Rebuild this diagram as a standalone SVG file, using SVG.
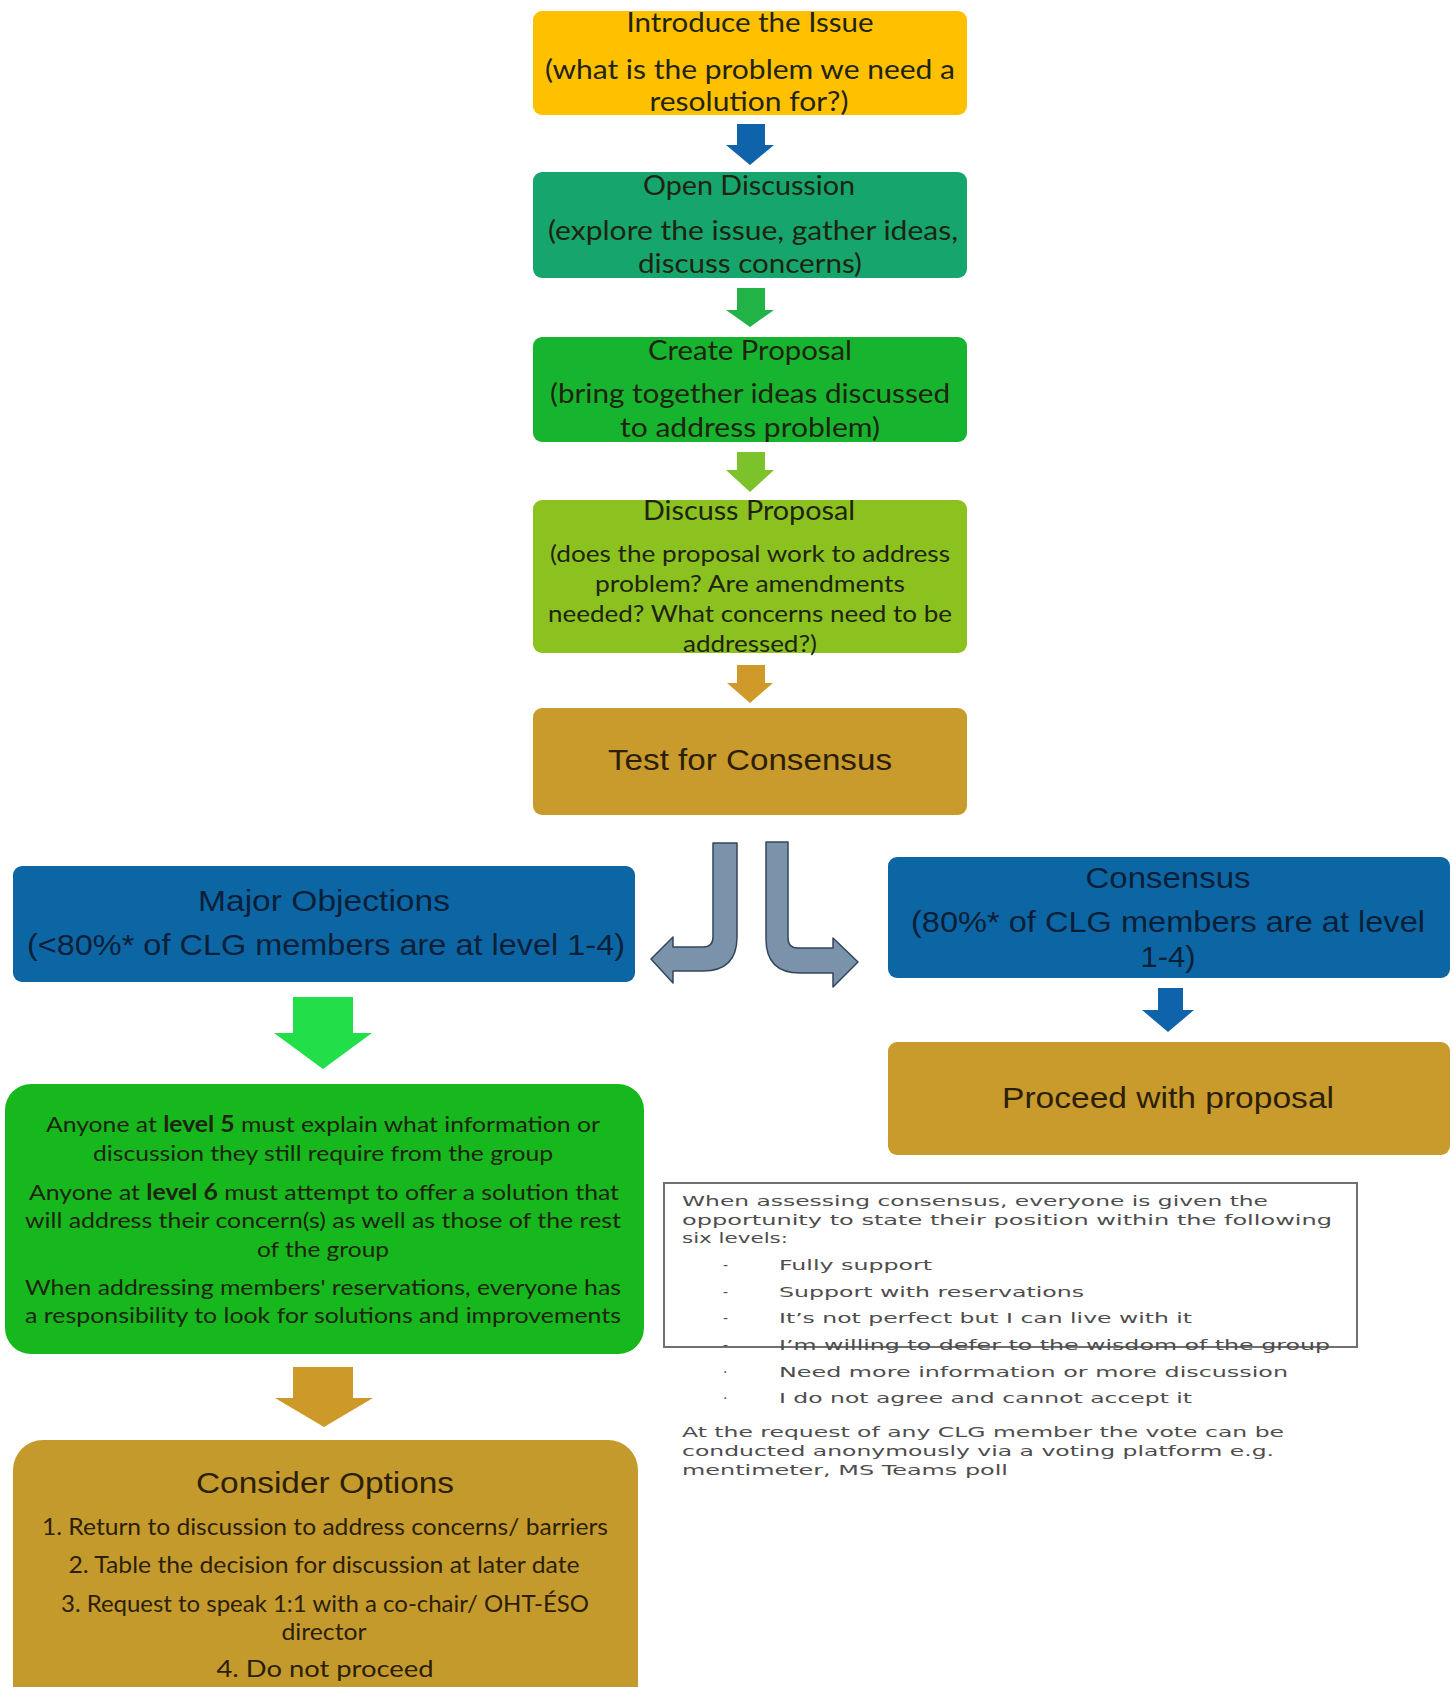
<svg xmlns="http://www.w3.org/2000/svg" width="1453" height="1687" viewBox="0 0 1453 1687">
<style>
.t{font-family:Lato,"Open Sans","Liberation Sans",sans-serif;fill:#1f2410;text-anchor:middle;}
.h{font-family:"Liberation Sans",Arial,sans-serif;text-anchor:middle;}
.s26{font-size:26px;}
.s24{font-size:24px;}
.s22{font-size:22px;}
.s23{font-size:23px;}
.s30{font-size:30px;}
.navy{fill:#0b1f38;}
.brown{fill:#2b1f08;}
.n{font-family:"DejaVu Sans",Verdana,sans-serif;font-size:14px;fill:#4d4d4d;}
.b{font-weight:bold;}
.grey{fill:#7a92aa;stroke:#34465a;stroke-width:1.5;stroke-linejoin:round;}
</style>
<rect width="1453" height="1687" fill="#ffffff"/>

<g id="introduce">
<rect x="533" y="11" width="434" height="104" rx="9" fill="#FFC000"/>
<text class="t s26" x="750" y="32" textLength="247" lengthAdjust="spacingAndGlyphs">Introduce the Issue</text>
<text class="t s26" x="750" y="79" textLength="410" lengthAdjust="spacingAndGlyphs">(what is the problem we need a</text>
<text class="t s26" x="749" y="111" textLength="199" lengthAdjust="spacingAndGlyphs">resolution for?)</text>
</g>

<g id="open-discussion">
<rect x="533" y="172" width="434" height="106" rx="9" fill="#17A56E"/>
<text class="t s26" x="749" y="195" textLength="212" lengthAdjust="spacingAndGlyphs">Open Discussion</text>
<text class="t s26" x="753" y="240" textLength="410" lengthAdjust="spacingAndGlyphs">(explore the issue, gather ideas,</text>
<text class="t s26" x="750" y="273" textLength="224" lengthAdjust="spacingAndGlyphs">discuss concerns)</text>
</g>

<g id="create-proposal">
<rect x="533" y="337" width="434" height="105" rx="9" fill="#17B52F"/>
<text class="t s26" x="750" y="360" textLength="204" lengthAdjust="spacingAndGlyphs">Create Proposal</text>
<text class="t s26" x="750" y="403" textLength="400" lengthAdjust="spacingAndGlyphs">(bring together ideas discussed</text>
<text class="t s26" x="750" y="437" textLength="260" lengthAdjust="spacingAndGlyphs">to address problem)</text>
</g>

<g id="discuss-proposal">
<rect x="533" y="500" width="434" height="153" rx="9" fill="#8BC220"/>
<text class="t s26" x="749" y="520" textLength="212" lengthAdjust="spacingAndGlyphs">Discuss Proposal</text>
<text class="t s24" x="750" y="562" textLength="400" lengthAdjust="spacingAndGlyphs">(does the proposal work to address</text>
<text class="t s24" x="750" y="592" textLength="310" lengthAdjust="spacingAndGlyphs">problem? Are amendments</text>
<text class="t s24" x="750" y="622" textLength="404" lengthAdjust="spacingAndGlyphs">needed? What concerns need to be</text>
<text class="t s24" x="750" y="652" textLength="134" lengthAdjust="spacingAndGlyphs">addressed?)</text>
</g>

<g id="test-consensus">
<rect x="533" y="708" width="434" height="107" rx="9" fill="#C99A2C"/>
<text class="h s30 brown" x="750" y="770" textLength="284" lengthAdjust="spacingAndGlyphs">Test for Consensus</text>
</g>

<g id="major-objections">
<rect x="13" y="866" width="622" height="116" rx="9" fill="#0D66A4"/>
<text class="h s30 navy" x="324" y="911" textLength="252" lengthAdjust="spacingAndGlyphs">Major Objections</text>
<text class="h s30 navy" x="326" y="955" textLength="598" lengthAdjust="spacingAndGlyphs">(&lt;80%* of CLG members are at level 1-4)</text>
</g>

<g id="consensus">
<rect x="888" y="857" width="562" height="121" rx="9" fill="#0D66A4"/>
<text class="h s30 navy" x="1168" y="888" textLength="165" lengthAdjust="spacingAndGlyphs">Consensus</text>
<text class="h s30 navy" x="1168" y="932" textLength="514" lengthAdjust="spacingAndGlyphs">(80%* of CLG members are at level</text>
<text class="h s30 navy" x="1168" y="967" textLength="55" lengthAdjust="spacingAndGlyphs">1-4)</text>
</g>

<g id="proceed">
<rect x="888" y="1042" width="562" height="113" rx="9" fill="#C99A2C"/>
<text class="h s30 brown" x="1168" y="1108" textLength="332" lengthAdjust="spacingAndGlyphs">Proceed with proposal</text>
</g>

<g id="objection-actions">
<rect x="5" y="1084" width="639" height="270" rx="26" fill="#17B71E"/>
<text class="t s22" x="323" y="1132" textLength="554" lengthAdjust="spacingAndGlyphs">Anyone at <tspan class="b">level 5</tspan> must explain what information or</text>
<text class="t s22" x="323" y="1161" textLength="460" lengthAdjust="spacingAndGlyphs">discussion they still require from the group</text>
<text class="t s22" x="324" y="1200" textLength="590" lengthAdjust="spacingAndGlyphs">Anyone at <tspan class="b">level 6</tspan> must attempt to offer a solution that</text>
<text class="t s22" x="323" y="1228" textLength="596" lengthAdjust="spacingAndGlyphs">will address their concern(s) as well as those of the rest</text>
<text class="t s22" x="323" y="1257" textLength="132" lengthAdjust="spacingAndGlyphs">of the group</text>
<text class="t s22" x="323" y="1295" textLength="596" lengthAdjust="spacingAndGlyphs">When addressing members' reservations, everyone has</text>
<text class="t s22" x="323" y="1323" textLength="596" lengthAdjust="spacingAndGlyphs">a responsibility to look for solutions and improvements</text>
</g>

<g id="consider-options">
<rect x="13" y="1440" width="625" height="300" rx="30" fill="#C49A2D"/>
<text class="h s30 brown" x="325" y="1493" textLength="258" lengthAdjust="spacingAndGlyphs">Consider Options</text>
<text class="t s23 brown" x="325" y="1535" textLength="566" lengthAdjust="spacingAndGlyphs">1. Return to discussion to address concerns/ barriers</text>
<text class="t s23 brown" x="324" y="1573" textLength="511" lengthAdjust="spacingAndGlyphs">2. Table the decision for discussion at later date</text>
<text class="t s23 brown" x="325" y="1612" textLength="528" lengthAdjust="spacingAndGlyphs">3. Request to speak 1:1 with a co-chair/ OHT-ÉSO</text>
<text class="t s23 brown" x="324" y="1640" textLength="85" lengthAdjust="spacingAndGlyphs">director</text>
<text class="t s23 brown" x="325" y="1677" textLength="217" lengthAdjust="spacingAndGlyphs">4. Do not proceed</text>
</g>

<g id="levels-note">
<rect x="664" y="1183" width="693" height="164" fill="none" stroke="#707070" stroke-width="2"/>
<text class="n" x="682" y="1206" textLength="586" lengthAdjust="spacingAndGlyphs">When assessing consensus, everyone is given the</text>
<text class="n" x="682" y="1225" textLength="650" lengthAdjust="spacingAndGlyphs">opportunity to state their position within the following</text>
<text class="n" x="682" y="1243" textLength="106" lengthAdjust="spacingAndGlyphs">six levels:</text>
<text class="n" x="723" y="1270">-</text>
<text class="n" x="779" y="1270" textLength="153" lengthAdjust="spacingAndGlyphs">Fully support</text>
<text class="n" x="723" y="1297">-</text>
<text class="n" x="779" y="1297" textLength="305" lengthAdjust="spacingAndGlyphs">Support with reservations</text>
<text class="n" x="723" y="1323">-</text>
<text class="n" x="779" y="1323" textLength="413" lengthAdjust="spacingAndGlyphs">It’s not perfect but I can live with it</text>
<text class="n" x="723" y="1350">-</text>
<text class="n" x="779" y="1350" textLength="551" lengthAdjust="spacingAndGlyphs">I’m willing to defer to the wisdom of the group</text>
<text class="n" x="723" y="1377">·</text>
<text class="n" x="779" y="1377" textLength="509" lengthAdjust="spacingAndGlyphs">Need more information or more discussion</text>
<text class="n" x="723" y="1403">·</text>
<text class="n" x="779" y="1403" textLength="413" lengthAdjust="spacingAndGlyphs">I do not agree and cannot accept it</text>
<text class="n" x="682" y="1437" textLength="602" lengthAdjust="spacingAndGlyphs">At the request of any CLG member the vote can be</text>
<text class="n" x="682" y="1456" textLength="592" lengthAdjust="spacingAndGlyphs">conducted anonymously via a voting platform e.g.</text>
<text class="n" x="682" y="1475" textLength="326" lengthAdjust="spacingAndGlyphs">mentimeter, MS Teams poll</text>
</g>

<g id="connectors">
<polygon points="737,124 765,124 765,145 774,145 750,165 726,145 737,145" fill="#0E63AB"/>
<polygon points="737,288 765,288 765,310 774,310 750,327 726,310 737,310" fill="#22B346"/>
<polygon points="737,452 765,452 765,470 774,470 750,492 726,470 737,470" fill="#7CC22B"/>
<polygon points="737,665 765,665 765,683 773,683 750,703 727,683 737,683" fill="#D09A2A"/>
<path class="grey" d="M713,843 L737,843 L737,937 Q737,971 703,971 L673,971 L673,983 L651,959 L673,937 L673,947 L703,947 Q713,947 713,937 Z"/>
<path class="grey" d="M766,842 L788,842 L788,938 Q788,948 798,948 L833,948 L833,938 L858,962 L833,987 L833,973 L800,973 Q766,973 766,939 Z"/>
<polygon points="1158,988 1183,988 1183,1010 1194,1010 1168,1032 1142,1010 1158,1010" fill="#0E63AB"/>
<polygon points="293,997 353,997 353,1033 372,1033 323,1069 274,1033 293,1033" fill="#22DE48"/>
<polygon points="293,1367 353,1367 353,1398 373,1398 324,1427 275,1398 293,1398" fill="#CD9A29"/>
</g>
</svg>
